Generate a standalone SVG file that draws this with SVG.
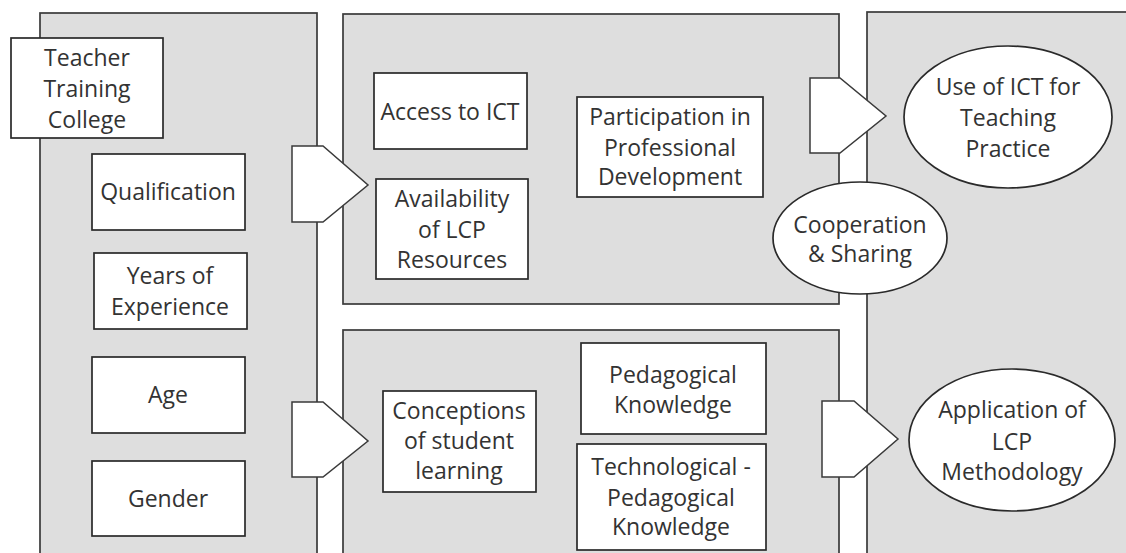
<svg xmlns="http://www.w3.org/2000/svg" width="1126" height="553" viewBox="0 0 1126 553">
<style>
.panel{fill:#dedede;stroke:#3a3a3a;stroke-width:1.7}
.box{fill:#ffffff;stroke:#2a2a2a;stroke-width:1.7}
.arrow{fill:#ffffff;stroke:#3a3a3a;stroke-width:1.5}
text{font-family:"Open Sans","Liberation Sans",sans-serif;font-size:23px;fill:#333333;text-anchor:middle}
</style>
<rect x="0" y="0" width="1126" height="553" fill="#ffffff"/>
<g id="panels">
<rect id="panel-left" class="panel" x="40" y="13" width="277" height="600"/>
<rect id="panel-mid-top" class="panel" x="343" y="14" width="496" height="290"/>
<rect id="panel-mid-bottom" class="panel" x="343" y="330" width="496" height="300"/>
<rect id="panel-right" class="panel" x="867" y="12" width="300" height="600"/>
</g>
<g id="connectors">
<polygon class="arrow" points="292,146 323,146 368,185 323,222 292,222"/>
<polygon class="arrow" points="292,402 323,402 368,441 323,477 292,477"/>
<polygon class="arrow" points="810,78 840,78 886,116 840,153 810,153"/>
<polygon class="arrow" points="822,401 854,401 898,439 854,477 822,477"/>
</g>
<g id="teacher-training-college">
<rect class="box" x="11" y="38" width="152" height="100"/>
<text x="87" y="66">Teacher</text>
<text x="87" y="97">Training</text>
<text x="87" y="128">College</text>
</g>
<g id="qualification">
<rect class="box" x="92" y="154" width="153" height="76"/>
<text x="168" y="200">Qualification</text>
</g>
<g id="years-of-experience">
<rect class="box" x="94" y="253" width="153" height="76"/>
<text x="170" y="284">Years of</text>
<text x="170" y="315">Experience</text>
</g>
<g id="age">
<rect class="box" x="92" y="357" width="153" height="76"/>
<text x="168" y="403">Age</text>
</g>
<g id="gender">
<rect class="box" x="92" y="461" width="153" height="75"/>
<text x="168" y="507">Gender</text>
</g>
<g id="access-to-ict">
<rect class="box" x="374" y="73" width="153" height="76"/>
<text x="450" y="120">Access to ICT</text>
</g>
<g id="availability-lcp">
<rect class="box" x="376" y="179" width="152" height="100"/>
<text x="452" y="207">Availability</text>
<text x="452" y="238">of LCP</text>
<text x="452" y="268">Resources</text>
</g>
<g id="participation-pd">
<rect class="box" x="577" y="97" width="186" height="100"/>
<text x="670" y="125">Participation in</text>
<text x="670" y="156">Professional</text>
<text x="670" y="185">Development</text>
</g>
<g id="conceptions">
<rect class="box" x="383" y="391" width="153" height="101"/>
<text x="459" y="419">Conceptions</text>
<text x="459" y="449">of student</text>
<text x="459" y="479">learning</text>
</g>
<g id="pedagogical-knowledge">
<rect class="box" x="581" y="343" width="185" height="91"/>
<text x="673" y="383">Pedagogical</text>
<text x="673" y="413">Knowledge</text>
</g>
<g id="tech-pedagogical-knowledge">
<rect class="box" x="577" y="444" width="189" height="106"/>
<text x="671" y="475">Technological -</text>
<text x="671" y="506">Pedagogical</text>
<text x="671" y="535">Knowledge</text>
</g>
<g id="use-of-ict">
<ellipse class="box" cx="1008" cy="117" rx="104" ry="71"/>
<text x="1008" y="95">Use of ICT for</text>
<text x="1008" y="126">Teaching</text>
<text x="1008" y="157">Practice</text>
</g>
<g id="cooperation-sharing">
<ellipse class="box" cx="860" cy="238" rx="87" ry="56"/>
<text x="860" y="233">Cooperation</text>
<text x="860" y="262">&amp; Sharing</text>
</g>
<g id="application-lcp">
<ellipse class="box" cx="1012" cy="440" rx="103" ry="71"/>
<text x="1012" y="418">Application of</text>
<text x="1012" y="450">LCP</text>
<text x="1012" y="480">Methodology</text>
</g>
</svg>
